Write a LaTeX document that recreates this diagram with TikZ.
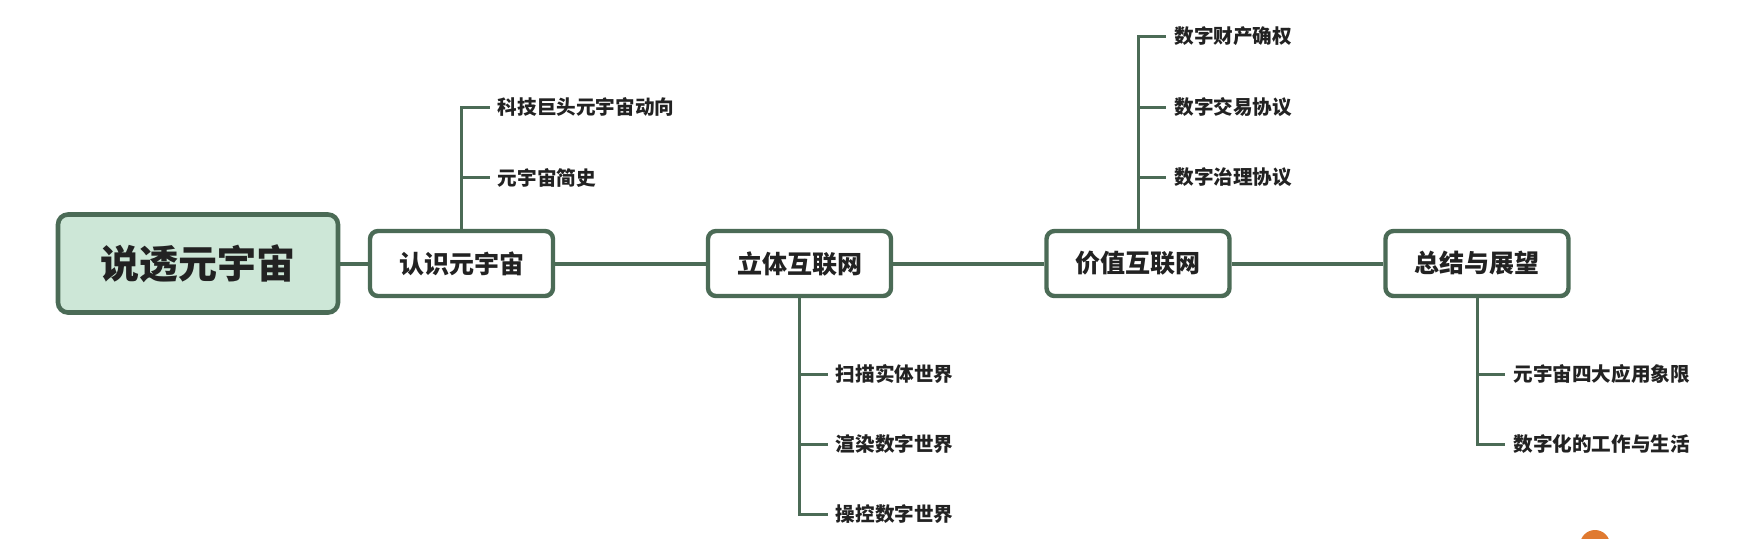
\documentclass[tikz,border=0pt]{standalone}
\usepackage{fontspec}
\newfontfamily\cjk{Noto Sans CJK SC}
\usepackage{tikz}
\usetikzlibrary{calc,positioning}
\usepackage{xcolor}
\definecolor{mmline}{HTML}{4B6B56}
\definecolor{mmfill}{HTML}{CDE7D7}
\definecolor{mmtext}{HTML}{222222}
\definecolor{wmorange}{HTML}{E07A30}

\tikzset{
	rootbox/.style={draw=mmline,line width=2.3pt,fill=mmfill,rounded corners=5pt,
		minimum width=140pt,minimum height=49pt,text=mmtext,
		font=\cjk\bfseries\fontsize{19.5}{23}\selectfont},
	topicbox/.style={draw=mmline,line width=2.2pt,fill=white,rounded corners=4pt,
		minimum width=91.5pt,minimum height=32.5pt,text=mmtext,
		font=\cjk\bfseries\fontsize{12.5}{15}\selectfont},
	leaf/.style={anchor=west,inner xsep=4pt,inner ysep=0pt,text=mmtext,
		font=\cjk\bfseries\fontsize{9.8}{12}\selectfont},
	link/.style={mmline,line width=2pt},
	twig/.style={mmline,line width=1.5pt}
}

\begin{document}
\begin{tikzpicture}[x=0.5pt,y=-0.5pt]
		\useasboundingbox (0,0) rectangle (1738,538);
		
		\node [rootbox] (root) at (198,263.5) {说透元宇宙};
		\node [topicbox] (know) at (461.5,263.5) {认识元宇宙};
		\node [topicbox] (solid) at (799.5,263.5) {立体互联网};
		\node [topicbox] (value) at (1138,263.5) {价值互联网};
		\node [topicbox] (sum) at (1477,263.5) {总结与展望};
		
		\draw[link] (root) -- (know);
		\draw[link] (know) -- (solid);
		\draw[link] (solid) -- (value);
		\draw[link] (value) -- (sum);
		
		% leaves
		\node [leaf] (know1) at (489.5,107) {科技巨头元宇宙动向};
		\node [leaf] (know2) at (489.5,177.5) {元宇宙简史};
		\node [leaf] (solid1) at (827.5,374) {扫描实体世界};
		\node [leaf] (solid2) at (827.5,444) {渲染数字世界};
		\node [leaf] (solid3) at (827.5,514) {操控数字世界};
		\node [leaf] (value1) at (1166,36.5) {数字财产确权};
		\node [leaf] (value2) at (1166,107) {数字交易协议};
		\node [leaf] (value3) at (1166,177) {数字治理协议};
		\node [leaf] (sum1) at (1505,374) {元宇宙四大应用象限};
		\node [leaf] (sum2) at (1505,444) {数字化的工作与生活};
		
		\draw[twig] (know.north) |- (know1.west);
		\draw[twig] (solid.south) |- (solid3.west);
		\draw[twig] (value.north) |- (value1.west);
		\draw[twig] (sum.south) |- (sum2.west);
		\foreach \t/\l in {know/know2,solid/solid1,solid/solid2,value/value2,value/value3,sum/sum1}
		\draw[twig] (\t.center |- \l.west) -- (\l.west);
		
		\fill[wmorange] (1595,545) circle (7.5pt);
	\end{tikzpicture}
\end{document}
